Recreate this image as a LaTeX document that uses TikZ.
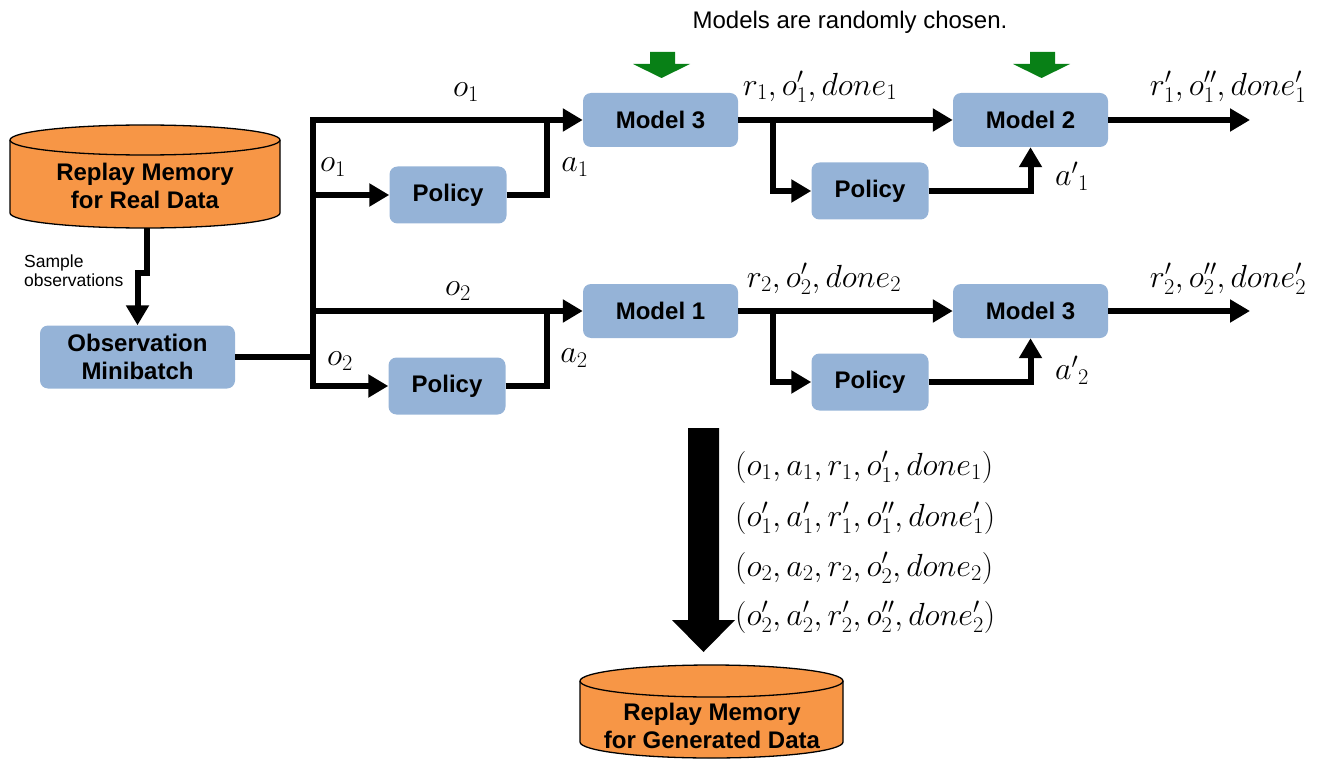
\RequirePackage{fix-cm}
\documentclass[tikz,border=0pt]{standalone}
\usepackage[no-math]{fontspec}
\setmainfont{Liberation Sans}
\usetikzlibrary{arrows.meta}
\definecolor{boxblue}{RGB}{149,179,215}
\definecolor{cylorange}{RGB}{247,150,70}
\definecolor{selgreen}{RGB}{8,128,22}
\begin{document}
\begin{tikzpicture}[x=1pt,y=-1pt,
  box/.style={fill=boxblue, rounded corners=8pt, font=\fontsize{24}{28}\selectfont\bfseries, align=center, inner sep=0pt},
  modelbox/.style={box, minimum width=155pt, minimum height=54pt},
  polbox/.style={box, minimum width=117pt, minimum height=57pt},
  ln/.style={line width=6pt},
  arr/.style={ln, -{Triangle[length=20pt,width=22pt]}},
  lbl/.style={font=\fontsize{32}{38}\selectfont, inner sep=0pt},
  tup/.style={lbl, anchor=west},
  cyl/.style={fill=cylorange, draw=black, line width=1.3pt},
  cyltext/.style={font=\fontsize{24}{28}\selectfont\bfseries, align=center, inner sep=0pt},
  greenarrow/.style={fill=selgreen},
  bigarrow/.style={fill=black}]
\useasboundingbox (0,0) rectangle (1321,759);

% title
\node[font=\fontsize{24}{28}\selectfont, inner sep=0pt] (title) at (850,22) {Models are randomly chosen.};

% real data cylinder
\filldraw[cyl] (10,140) -- (10,213) arc[start angle=180,end angle=0,x radius=135,y radius=15] -- (280,140) arc[start angle=0,end angle=-180,x radius=135,y radius=15] -- cycle;
\draw[cyl, fill=none] (10,140) arc[start angle=180,end angle=0,x radius=135,y radius=15];
\node[cyltext] (real) at (145,186) {Replay Memory\\for Real Data};
\coordinate (realbot) at (147,228);

% generated data cylinder
\filldraw[cyl] (580,681) -- (580,742) arc[start angle=180,end angle=0,x radius=131.5,y radius=16] -- (843,681) arc[start angle=0,end angle=-180,x radius=131.5,y radius=16] -- cycle;
\draw[cyl, fill=none] (580,681) arc[start angle=180,end angle=0,x radius=131.5,y radius=16];
\node[cyltext] (gen) at (712,726) {Replay Memory\\for Generated Data};

% boxes
\node[box, minimum width=195pt, minimum height=63pt] (mb) at (137.5,357) {Observation\\Minibatch};
\node[modelbox] (m3) at (660.5,120) {Model 3};
\node[modelbox] (m2) at (1030.5,120) {Model 2};
\node[modelbox] (m1) at (660.5,311) {Model 1};
\node[modelbox] (m3b) at (1030.5,311) {Model 3};
\node[polbox] (pl1) at (448,195) {Policy};
\node[polbox] (pr1) at (870,191) {Policy};
\node[polbox] (pl2) at (447,386) {Policy};
\node[polbox] (pr2) at (870,382) {Policy};

% coordinates
\coordinate (bt) at (313,120);
\coordinate (bb) at (313,386);
\coordinate (bj) at (313,357);
\coordinate (j1) at (547,120);
\coordinate (j2) at (547,311);
\coordinate (br1) at (773,120);
\coordinate (br2) at (773,311);
\coordinate (out1) at (1250,120);
\coordinate (out2) at (1250,311);

% connectors
\draw[arr] (realbot) -- (147,273) -- (137.5,273) -- (mb.north);
\draw[ln] (mb.east) -- (bj);
\draw[arr] (bb) -- (bt) -- (m3.west);
\draw[arr] (bj) -- (bb) -- (pl2.west);
\draw[arr] (bt |- pl1.west) -- (pl1.west);
\draw[arr] (bt |- m1.west) -- (m1.west);
\draw[ln] (pl1.east) -| (j1);
\draw[ln] (pl2.east) -| (j2);
\draw[arr] (m3.east) -- (m2.west);
\draw[arr] (m1.east) -- (m3b.west);
\draw[arr] (br1) |- (pr1.west);
\draw[arr] (br2) |- (pr2.west);
\draw[arr] (pr1.east) -| (m2.south);
\draw[arr] (pr2.east) -| (m3b.south);
\draw[arr] (m2.east) -- (out1);
\draw[arr] (m3b.east) -- (out2);

% green selection arrows
\fill[greenarrow] (650,52) -- (675,52) -- (675,64) -- (690,64) -- (661.5,78) -- (633,64) -- (650,64) -- cycle;
\fill[greenarrow] (1030,52) -- (1055,52) -- (1055,64) -- (1070,64) -- (1041.5,78) -- (1013,64) -- (1030,64) -- cycle;

% big arrow
\fill[bigarrow] (688,428) -- (719,428) -- (719,620) -- (735,620) -- (703.5,652) -- (672,620) -- (688,620) -- cycle;

% labels
\node[font=\fontsize{17.5}{19}\selectfont, align=left, anchor=west, inner sep=0pt] (samp) at (24,271) {Sample\\observations};
\node[lbl] at (466,92) {$o_1$};
\node[lbl] at (333,167) {$o_1$};
\node[lbl] at (575,167) {$a_1$};
\node[lbl] at (820,87) {$r_1, o'_1, done_1$};
\node[lbl] at (1228,87) {$r'_1, o''_1, done'_1$};
\node[lbl] at (1072,176) {${a'}_1$};
\node[lbl] at (458,291) {$o_2$};
\node[lbl] at (340,361) {$o_2$};
\node[lbl] at (574,358) {$a_2$};
\node[lbl] at (824,279) {$r_2, o'_2, done_2$};
\node[lbl] at (1228,279) {$r'_2, o''_2, done'_2$};
\node[lbl] at (1072,370) {${a'}_2$};

% tuples
\node[tup] at (735,467) {$(o_1, a_1, r_1, o'_1, done_1)$};
\node[tup] at (735,518) {$(o'_1, a'_1, r'_1, o''_1, done'_1)$};
\node[tup] at (735,568) {$(o_2, a_2, r_2, o'_2, done_2)$};
\node[tup] at (735,617) {$(o'_2, a'_2, r'_2, o''_2, done'_2)$};
\end{tikzpicture}
\end{document}
